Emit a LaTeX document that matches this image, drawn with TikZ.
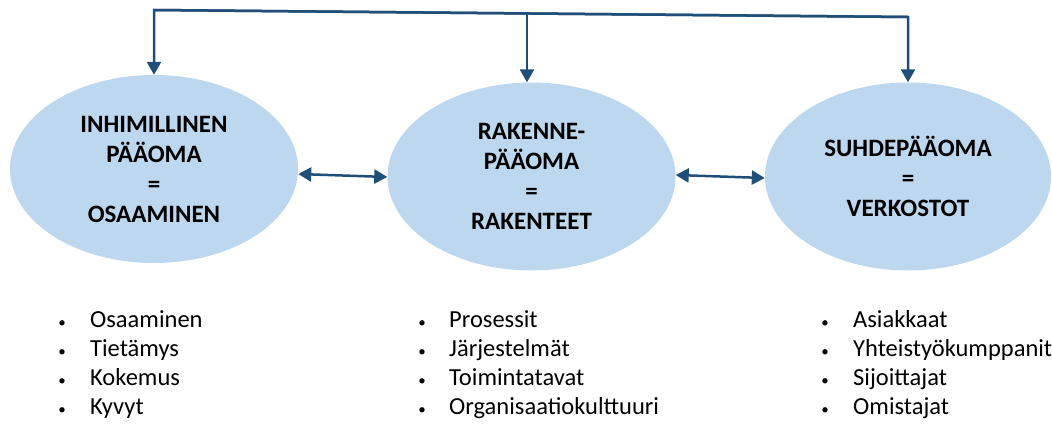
\documentclass[tikz,border=0pt]{standalone}
\usepackage{fontspec}
\setmainfont{Carlito}
\usetikzlibrary{shapes.geometric,arrows.meta}
\definecolor{capfill}{HTML}{BDD7EE}
\definecolor{linkblue}{HTML}{1F4E79}
% small list bullet in a fixed-width box
\newcommand{\dotmark}{\makebox[12pt][c]{\fontsize{15}{15}\selectfont •}}
\begin{document}
\begin{tikzpicture}[x=1pt,y=-1pt,
  capital/.style={ellipse, fill=capfill, draw=none, inner sep=0pt,
    minimum width=288pt, minimum height=188pt, align=center,
    font=\bfseries\fontsize{25}{30}\selectfont},
  link/.style={draw=linkblue, line width=2.5pt, line join=miter},
  tip/.style={-{Triangle[width=14pt,length=13pt]}},
  both/.style={{Triangle[width=14pt,length=13pt]}-{Triangle[width=14pt,length=13pt]}},
  itemlist/.style={anchor=base west, inner sep=0pt, font=\fontsize{24.5}{29}\selectfont}
]
\useasboundingbox (0,0) rectangle (1052,423);
\clip (0,0) rectangle (1052,423);

% the three forms of capital
\node[capital] (inh) at (154,169) {INHIMILLINEN\\PÄÄOMA\\=\\OSAAMINEN};
\node[capital] (rak) at (531.5,176.5) {RAKENNE-\\PÄÄOMA\\=\\RAKENTEET};
\node[capital, minimum width=286pt] (suh) at (908,176.5) {SUHDEPÄÄOMA\\=\\VERKOSTOT};

% common feed line on top
\coordinate (tl) at (inh.north |- 0,10);
\coordinate (tr) at (suh.north |- 0,17);
\coordinate (tm) at (527,13.5);
\draw[link,tip] (tr) -- (tl) -- (inh.north);
\draw[link,tip] (tl) -- (tr) -- (suh.north);
\draw[link,tip] (tm) -- (tm |- rak.north);

% links between neighbours
\draw[link,both] ([yshift=-5pt]inh.east) -- ([yshift=-0.5pt]rak.west);
\draw[link,both] ([yshift=1.5pt]rak.east) -- ([yshift=-1.5pt]suh.west);

% lists under each ellipse
\node[itemlist] (l1) at (56,327) {\begin{tabular}[t]{@{}l@{\hspace{22pt}}l@{}}
  \dotmark & Osaaminen\\ \dotmark & Tietämys\\ \dotmark & Kokemus\\ \dotmark & Kyvyt\end{tabular}};
\node[itemlist] (l2) at (416,327) {\begin{tabular}[t]{@{}l@{\hspace{21pt}}l@{}}
  \dotmark & Prosessit\\ \dotmark & Järjestelmät\\ \dotmark & Toimintatavat\\ \dotmark & Organisaatiokulttuuri\end{tabular}};
\node[itemlist] (l3) at (819,327) {\begin{tabular}[t]{@{}l@{\hspace{22pt}}l@{}}
  \dotmark & Asiakkaat\\ \dotmark & Yhteistyökumppanit\\ \dotmark & Sijoittajat\\ \dotmark & Omistajat\end{tabular}};
\end{tikzpicture}
\end{document}
